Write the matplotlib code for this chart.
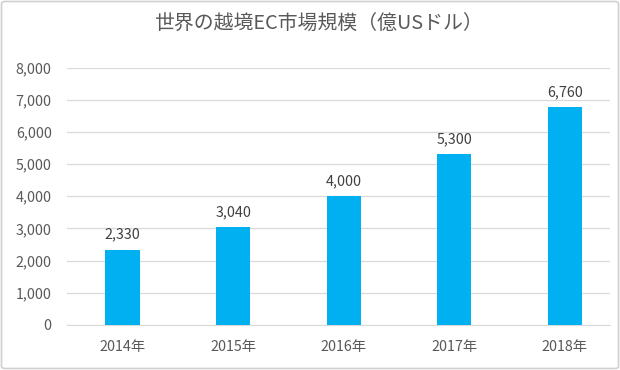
import matplotlib
matplotlib.use("Agg")
import matplotlib.pyplot as plt
from matplotlib.patches import FancyBboxPatch

plt.rcParams['font.family'] = ['Noto Sans CJK JP', 'DejaVu Sans']

categories = ["2014年", "2015年", "2016年", "2017年", "2018年"]
values = [2330, 3040, 4000, 5300, 6760]
yticks = [0, 1000, 2000, 3000, 4000, 5000, 6000, 7000, 8000]
title = "世界の越境EC市場規模（億USドル）"

W, H = 620, 370
fig = plt.figure(figsize=(W/100, H/100), dpi=100)
fig.patch.set_facecolor("white")

border = FancyBboxPatch((1.5/W, 1.5/H), (W-3)/W, (H-3)/H,
                        boxstyle="round,pad=0,rounding_size=0.006",
                        transform=fig.transFigure, fill=False,
                        edgecolor="#D0D0D0", linewidth=1.2)
fig.patches.append(border)

ax = fig.add_axes([67/W, 45/H, (610-67)/W, (325-67.5)/H])
x = list(range(len(categories)))
ax.bar(x, values, width=0.31, color="#00B0F0", zorder=3)
ax.set_xlim(-0.502, 4.408)
ax.set_ylim(0, 8000)
ax.set_yticks(yticks)
ax.set_yticklabels([f"{v:,}" for v in yticks])
ax.set_xticks(x)
ax.set_xticklabels(categories)
ax.grid(axis="y", color="#D9D9D9", linewidth=0.9, zorder=0)
for s in ["top", "right", "left"]:
    ax.spines[s].set_visible(False)
ax.spines["bottom"].set_color("#D9D9D9")
ax.tick_params(axis="both", length=0, colors="#595959", labelsize=10.3)
ax.tick_params(axis="y", pad=11)
ax.tick_params(axis="x", pad=11)

for xi, v in zip(x, values):
    ax.annotate(f"{v:,}", (xi, v), xytext=(0, 6), textcoords="offset points",
                ha="center", va="bottom", fontsize=10.3, color="#404040")

fig.text(0.513, 1 - 23/H, title, ha="center", va="center",
         fontsize=14.3, color="#595959")

fig.savefig("out.png", dpi=100)
